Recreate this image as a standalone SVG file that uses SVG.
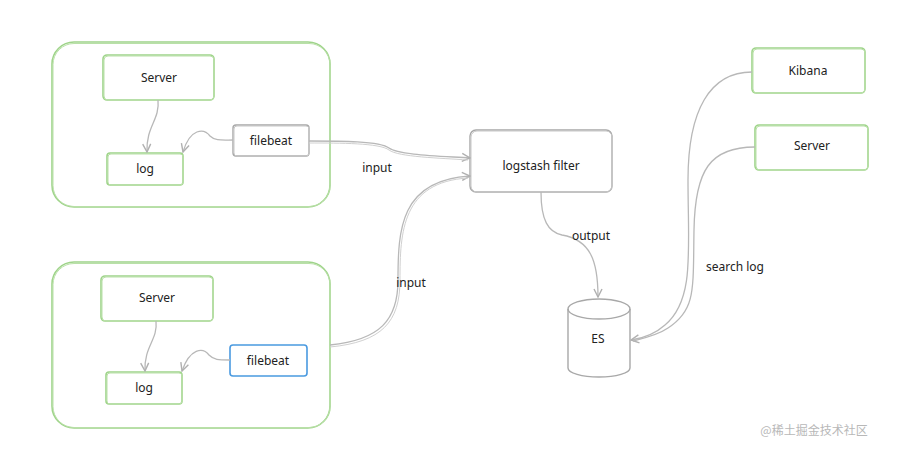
<svg xmlns="http://www.w3.org/2000/svg" width="916" height="475" viewBox="0 0 916 475">
<defs>
<style>
.g{fill:none;stroke:#9fd48a;stroke-width:1.6}
.g2{fill:none;stroke:#b9e0a8;stroke-width:1}
.k{fill:none;stroke:#a8a8a8;stroke-width:1.4}
.k2{fill:none;stroke:#c8c8c8;stroke-width:1}
.b{fill:none;stroke:#4a9ae0;stroke-width:1.6}
.c{fill:none;stroke:#b8b8b8;stroke-width:1.3}
.c2{fill:none;stroke:#d0d0d0;stroke-width:1}
text{font-family:"Noto Sans","Liberation Sans",sans-serif;font-size:12px;fill:#222;text-anchor:middle;dominant-baseline:middle}
.wm{font-family:"Noto Sans CJK SC","Noto Sans",sans-serif;fill:#b8b8b8;font-size:12px}
</style>
<marker id="ah" viewBox="0 0 10 10" refX="9" refY="5" markerWidth="10" markerHeight="10" markerUnits="userSpaceOnUse" orient="auto">
<path d="M1,1 L9,5 L1,9" fill="none" stroke="#b0b0b0" stroke-width="1.4"/>
</marker>
</defs>
<rect width="916" height="475" fill="#fff"/>

<g id="group-top">
<rect class="g" x="52" y="42" width="278" height="165" rx="22"/>
<rect class="g2" x="53" y="43.5" width="277" height="163" rx="21"/>
</g>
<g id="server-top">
<rect class="g" x="103" y="55" width="111" height="45" rx="4"/>
<rect class="g2" x="104" y="56" width="110" height="44" rx="4"/>
<text x="159" y="79">Server</text>
</g>
<g id="log-top">
<rect class="g" x="107" y="153" width="76" height="32" rx="3"/>
<rect class="g2" x="108" y="154" width="75" height="31" rx="3"/>
<text x="145" y="170">log</text>
</g>
<g id="filebeat-top">
<rect class="k" x="233" y="125" width="76" height="31" rx="3"/>
<rect class="k2" x="234" y="126" width="75" height="30" rx="3"/>
<text x="271" y="142">filebeat</text>
</g>

<g id="group-bottom">
<rect class="g" x="52" y="262" width="278" height="166" rx="22"/>
<rect class="g2" x="53" y="263.5" width="277" height="164" rx="21"/>
</g>
<g id="server-bottom">
<rect class="g" x="101" y="276" width="112" height="45" rx="4"/>
<rect class="g2" x="102" y="277" width="111" height="44" rx="4"/>
<text x="157" y="299">Server</text>
</g>
<g id="log-bottom">
<rect class="g" x="106" y="372" width="76" height="32" rx="3"/>
<rect class="g2" x="107" y="373" width="75" height="31" rx="3"/>
<text x="144" y="389">log</text>
</g>
<g id="filebeat-bottom">
<rect class="b" x="230" y="345" width="77" height="31" rx="3"/>
<text x="268" y="362">filebeat</text>
</g>

<g id="logstash">
<rect class="k" x="470" y="130" width="142" height="62" rx="6"/>
<rect class="k2" x="471" y="131" width="141" height="61" rx="6"/>
<text x="541" y="167">logstash filter</text>
</g>

<g id="es">
<path class="k" d="M568,309 L568,368 A31,9 0 0 0 630,368 L630,309"/>
<ellipse class="k" cx="599" cy="309" rx="31" ry="10"/>
<text x="598" y="340">ES</text>
</g>

<g id="kibana">
<rect class="g" x="752" y="48" width="113" height="45" rx="4"/>
<rect class="g2" x="753" y="49" width="112" height="44" rx="4"/>
<text x="808" y="72">Kibana</text>
</g>
<g id="server-right">
<rect class="g" x="755" y="125" width="113" height="45" rx="4"/>
<rect class="g2" x="756" y="126" width="112" height="44" rx="4"/>
<text x="812" y="147">Server</text>
</g>

<g id="connectors">
<path class="c" d="M158,100 C160,120 146,126 147,152" marker-end="url(#ah)"/>
<path class="c" d="M233,140 C222,140 215,141 210,136 C204,128 190,128 183,152" marker-end="url(#ah)"/>
<path class="c" d="M156,321 C158,340 144,346 145,371" marker-end="url(#ah)"/>
<path class="c" d="M230,360 C218,360 214,360 209,355 C203,347 190,348 182,371" marker-end="url(#ah)"/>
<path class="c" d="M309,141 C340,141 380,141 389,148 C398,155 440,156 470,158" marker-end="url(#ah)"/>
<path class="c2" d="M309,143 C340,143 380,143 389,150 C398,157 440,158 468,160"/>
<path class="c" d="M330,345 C380,340 398,320 398,280 C398,230 400,180 470,176" marker-end="url(#ah)"/>
<path class="c2" d="M330,347 C382,342 400,322 400,280 C400,232 402,182 468,178"/>
<path class="c" d="M541,192 C541,220 548,232 562,235 C590,240 598,260 598,297" marker-end="url(#ah)"/>
<path class="c" d="M752,72 C710,72 688,110 688,180 C688,250 695,300 665,325 C655,334 645,338 631,340" marker-end="url(#ah)"/>
<path class="c" d="M755,147 C710,147 695,170 694,230 C693,290 696,310 668,328 C658,335 645,338 633,341"/>
<text x="377" y="169">input</text>
<text x="411" y="284">input</text>
<text x="591" y="237">output</text>
<text x="735" y="268">search log</text>
</g>
<text class="wm" x="814" y="432">@稀土掘金技术社区</text>
</svg>
